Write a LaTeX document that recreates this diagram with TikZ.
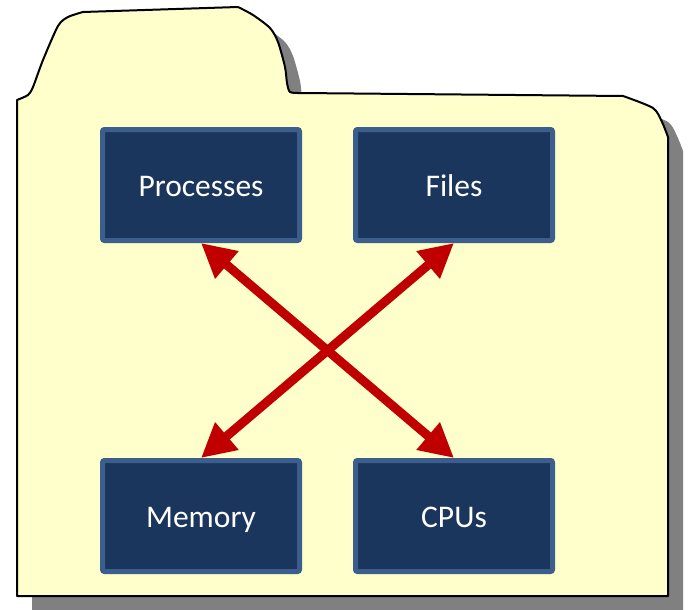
\documentclass[tikz,border=0pt]{standalone}
\usepackage{fontspec}
\setmainfont{Carlito}
\usetikzlibrary{arrows.meta}

\definecolor{folderfill}{HTML}{FFFFCC}
\definecolor{shadowgray}{HTML}{808080}
\definecolor{boxfill}{HTML}{1B365D}
\definecolor{boxborder}{HTML}{3B5E8C}
\definecolor{linkred}{HTML}{C00000}

% outline of the folder, in pixel-like units
\def\folderoutline{
  (17,596) -- (17,100)
  -- plot[smooth, tension=0.45] coordinates {
    (17,100) (28,95) (33,87) (43,60) (58,26) (68,17) (83,12)}
  -- (238,7)
  -- plot[smooth, tension=0.45] coordinates {
    (238,7) (253,15) (270,28) (278,42) (285,67) (287,83) (290,92) (300,93)}
  -- (623,96)
  -- plot[smooth, tension=0.45] coordinates {
    (623,96) (653,108) (662,122) (668,137)}
  -- (668,596) -- cycle}

\tikzset{
  resource/.style={draw=boxborder, fill=boxfill, line width=5pt,
    rounded corners=2pt, minimum width=197pt, minimum height=111pt,
    inner sep=0pt, text height=23pt, text depth=0pt, text=white,
    font=\fontsize{31.5}{36}\selectfont},
  link/.style={draw=linkred, line width=9pt,
    {Triangle[length=34pt,width=34pt]}-{Triangle[length=34pt,width=34pt]}}
}

\begin{document}
\begin{tikzpicture}[x=1pt, y=-1pt]
  \useasboundingbox (0,0) rectangle (688,610);

  % drop shadow, then the folder itself
  \fill[shadowgray, shift={(15pt,-14pt)}] \folderoutline;
  \draw[fill=folderfill, line width=2pt, line join=round] \folderoutline;

  % the four resources
  \node[resource] (proc)  at (201,185) {Processes};
  \node[resource] (files) at (454,185) {Files};
  \node[resource] (mem)   at (201,516) {Memory};
  \node[resource] (cpus)  at (454,516) {CPUs};

  % crossing two-way links
  \draw[link] (proc.south) -- (cpus.north);
  \draw[link] (files.south) -- (mem.north);
\end{tikzpicture}
\end{document}
